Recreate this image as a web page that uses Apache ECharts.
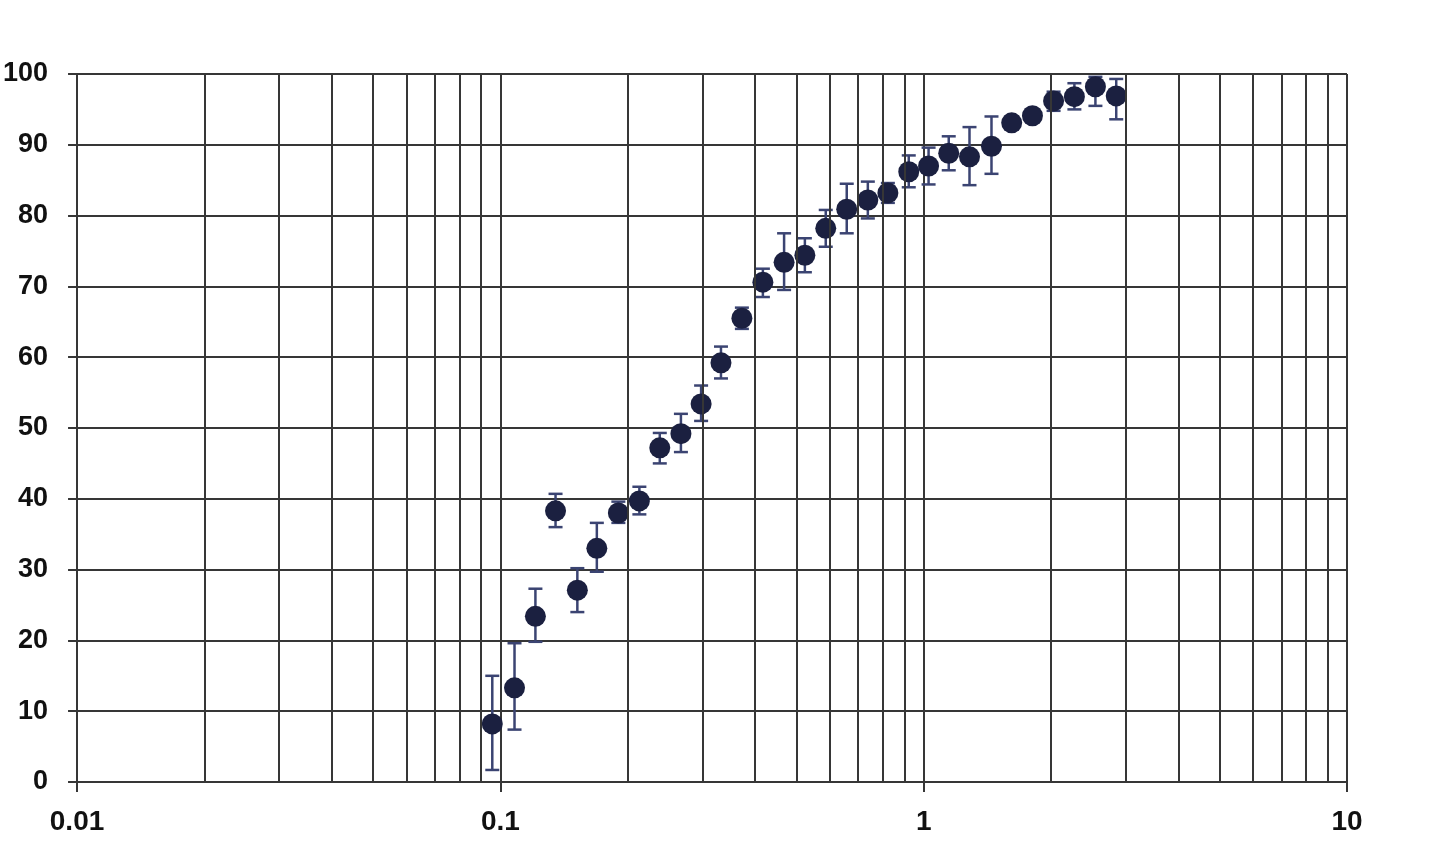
<!DOCTYPE html>
<html>
<head>
<meta charset="utf-8">
<script src="https://cdn.jsdelivr.net/npm/echarts@6/dist/echarts.min.js"></script>
<style>html,body{margin:0;padding:0;background:#fff;}#c{width:1448px;height:862px;}</style>
</head>
<body>
<div id="c"></div>
<script>
const xValues = [0.0957,0.108,0.121,0.135,0.152,0.169,0.190,0.213,0.238,0.267,0.298,0.332,0.372,0.417,0.468,0.524,0.587,0.658,0.738,0.823,0.922,1.027,1.146,1.283,1.446,1.614,1.807,2.027,2.27,2.545,2.85];
const yValues = [8.2,13.3,23.4,38.3,27.1,33,38,39.7,47.2,49.2,53.4,59.2,65.5,70.6,73.4,74.4,78.2,80.9,82.2,83.2,86.2,87,88.8,88.3,89.8,93.1,94.1,96.2,96.8,98.2,96.9];
const yHigh = [15,19.6,27.3,40.7,30.2,36.6,39.6,41.7,49.3,52,56,61.5,67,72.5,77.5,76.8,80.8,84.5,84.8,84.6,88.5,89.6,91.2,92.5,94,94,94.6,97.5,98.7,99.6,99.3];
const yLow = [1.7,7.4,19.8,36,24,29.7,36.6,37.8,45,46.6,51,57,64,68.5,69.5,72,75.6,77.5,79.6,81.8,84,84.4,86.4,84.3,85.9,92.2,93.6,94.8,95,95.5,93.6];
const xTickLabels = ['0.01','0.1','1','10'];

const minorGrid = [];
[0.01,0.1,1].forEach(d => { for (let k = 2; k <= 9; k++) minorGrid.push(+(d*k).toPrecision(3)); });

const points = xValues.map((x,i)=>[x,yValues[i]]);
const errData = xValues.map((x,i)=>[x,yLow[i],yHigh[i]]);

const chart = echarts.init(document.getElementById('c'));
const lineColor = '#363636';
chart.setOption({
  animation:false,
  backgroundColor:'#fff',
  grid:{left:77,right:101,top:74,bottom:80,containLabel:false},
  xAxis:{
    type:'log', logBase:10, min:0.01, max:10,
    axisLine:{show:true,lineStyle:{color:lineColor,width:2}},
    axisTick:{show:true,length:10,lineStyle:{color:lineColor,width:2}},
    splitLine:{show:true,lineStyle:{color:lineColor,width:2}},
    minorTick:{show:false}, minorSplitLine:{show:false},
    axisLabel:{
      margin:26, fontSize:28, fontWeight:'bold', color:'#111', fontFamily:'Liberation Sans, Arial, sans-serif',
      formatter:(v)=>{ const i=Math.round(Math.log10(v))+2; return xTickLabels[i]!==undefined?xTickLabels[i]:''; }
    }
  },
  yAxis:{
    type:'value', min:0, max:100, interval:10,
    axisLine:{show:true,lineStyle:{color:lineColor,width:2}},
    axisTick:{show:true,length:9,lineStyle:{color:lineColor,width:2}},
    splitLine:{show:true,lineStyle:{color:lineColor,width:2}},
    axisLabel:{margin:29, fontSize:27, fontWeight:'bold', color:'#111', fontFamily:'Liberation Sans, Arial, sans-serif'}
  },
  series:[
    {
      type:'line', data:[], silent:true,
      markLine:{
        silent:true, symbol:'none', label:{show:false},
        lineStyle:{color:lineColor,width:2,type:'solid'},
        data: minorGrid.map(v=>({xAxis:v})).concat([{yAxis:100}])
      }
    },
    {
      type:'custom', data:errData, z:3,
      renderItem:(params,api)=>{
        const x = api.value(0);
        const lo = api.coord([x, api.value(1)]);
        const hi = api.coord([x, api.value(2)]);
        const cw = 7;
        const st = {stroke:'#3b4472', lineWidth:2.5};
        return {type:'group', children:[
          {type:'line', shape:{x1:lo[0],y1:lo[1],x2:hi[0],y2:hi[1]}, style:st},
          {type:'line', shape:{x1:lo[0]-cw,y1:lo[1],x2:lo[0]+cw,y2:lo[1]}, style:st},
          {type:'line', shape:{x1:hi[0]-cw,y1:hi[1],x2:hi[0]+cw,y2:hi[1]}, style:st}
        ]};
      }
    },
    {
      type:'scatter', data:points, z:4, symbol:'circle', symbolSize:21,
      itemStyle:{color:'#1b2040', opacity:1}
    }
  ]
});
</script>
</body>
</html>
